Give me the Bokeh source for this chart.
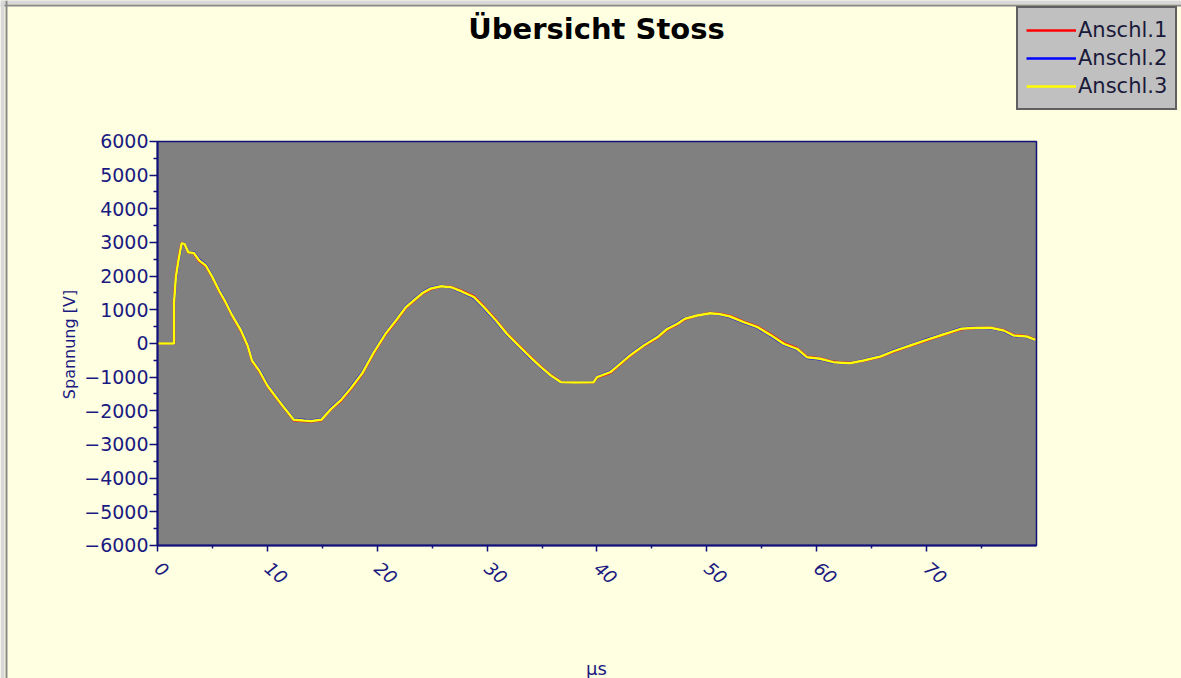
import math
from bokeh.plotting import figure
from bokeh.models import Range1d, FixedTicker, Label, Legend, LegendItem, Span
from bokeh.embed import file_html
from bokeh.resources import INLINE

# ---- data ----
title_text = "Übersicht Stoss"
x_label = "µs"
y_label = "Spannung [V]"
series_names = ["Anschl.1", "Anschl.2", "Anschl.3"]
series_colors = ["#FF0000", "#0000FF", "#FFFF00"]

t_us = [0, 1.5, 1.5, 1.67, 1.88, 2.06, 2.2, 2.45, 2.8, 3.3, 3.8, 4.4, 5.0, 5.6, 6.2,
        6.8, 7.6, 8.2, 8.6, 9.25, 10.0, 10.8, 11.5, 12.4, 13.3, 14.0, 14.9, 15.8, 16.7,
        17.6, 18.6, 19.7, 20.75, 21.7, 22.6, 23.5, 24.1, 24.8, 25.8, 26.7, 27.7, 28.8,
        29.7, 30.8, 31.8, 33.0, 34.0, 34.9, 35.8, 36.7, 38.0, 39.7, 40.0, 41.2, 42.1,
        43.0, 44.25, 45.5, 46.4, 47.3, 48.0, 49.1, 50.3, 51.2, 52.1, 53.35, 54.6, 55.8,
        57.0, 58.2, 59.1, 60.3, 61.5, 63.0, 64.25, 65.8, 67.0, 68.5, 70.0, 71.5, 73.1,
        74.5, 75.8, 77.0, 77.9, 79.1, 79.9]

anschl_3 = [0, 0, 1180, 1970, 2415, 2740, 2980, 2960, 2710, 2690, 2465, 2317, 1970, 1574,
            1227, 832, 386, -59, -505, -802, -1247, -1595, -1892, -2267, -2287, -2300,
            -2267, -1940, -1680, -1330, -900, -258, 287, 683, 1079, 1327, 1494, 1624,
            1703, 1673, 1544, 1376, 1079, 683, 287, -109, -430, -703, -950, -1148, -1160,
            -1148, -1000, -852, -604, -356, -59, 188, 436, 584, 733, 832, 900, 870, 802,
            634, 485, 250, -10, -158, -406, -455, -554, -584, -505, -386, -228, -59, 109,
            267, 436, 470, 465, 386, 238, 208, 109]

anschl_1 = [0, 0, 1230, 2010, 2450, 2780, 2990, 2950, 2700, 2680, 2440, 2300, 1960, 1560,
            1210, 820, 360, -70, -520, -820, -1260, -1610, -1900, -2280, -2300, -2310,
            -2280, -1950, -1700, -1350, -920, -280, 270, 660, 1060, 1310, 1480, 1610,
            1700, 1680, 1560, 1400, 1100, 700, 300, -90, -410, -690, -940, -1140, -1160,
            -1150, -1010, -870, -620, -370, -70, 170, 420, 570, 720, 830, 905, 880, 820,
            650, 500, 270, 10, -140, -390, -445, -545, -580, -510, -395, -240, -70, 95,
            255, 425, 468, 470, 395, 250, 215, 115]

anschl_2 = [0, 0, 1140, 1930, 2380, 2700, 2970, 2965, 2720, 2700, 2490, 2335, 1985, 1590,
            1245, 845, 405, -45, -490, -785, -1230, -1580, -1880, -2255, -2275, -2290,
            -2255, -1925, -1665, -1310, -880, -240, 305, 700, 1095, 1345, 1510, 1640,
            1706, 1665, 1530, 1355, 1060, 665, 270, -125, -450, -715, -960, -1155, -1160,
            -1145, -990, -835, -590, -340, -45, 205, 450, 598, 745, 835, 895, 862, 788,
            620, 470, 232, -28, -175, -420, -465, -562, -588, -498, -378, -215, -48, 122,
            280, 446, 472, 460, 378, 228, 200, 102]

y_ticks = [-6000, -5000, -4000, -3000, -2000, -1000, 0, 1000, 2000, 3000, 4000, 5000, 6000]
y_minor = [-5500, -4500, -3500, -2500, -1500, -500, 500, 1500, 2500, 3500, 4500, 5500]
x_ticks = [0, 10, 20, 30, 40, 50, 60, 70]
x_minor = [5, 15, 25, 35, 45, 55, 65, 75]
x_min, x_max = 0, 80
y_min, y_max = y_ticks[0], y_ticks[-1]

# ---- styling ----
W, H = 1181, 678
BG = "#FFFFE1"
NAVY = "#1A1A80"
AXIS = "#10107A"
FONT = "DejaVu Sans"

# view ranges chosen so that the plot area sits where the reference has it
X0, X1 = -14.289, 93.197
Y0, Y1 = -9950.5, 10188.1
p = figure(width=W, height=H, output_backend="svg", toolbar_location=None,
           x_range=Range1d(X0, X1), y_range=Range1d(Y0, Y1), min_border=0)
p.background_fill_color = BG
p.border_fill_color = BG
p.outline_line_color = None
p.xgrid.visible = False
p.ygrid.visible = False

px_x = W / (X1 - X0)
px_y = H / (Y1 - Y0)
# window frame (light outer band + darker inner line), top and left edges
p.add_layout(Span(location=Y1 - 1.5 / px_y, dimension="width", line_color="#D8D8D8", line_width=4))
p.add_layout(Span(location=Y1 - 5 / px_y, dimension="width", line_color="#8A8A8A", line_width=2))
p.add_layout(Span(location=X0 + 2 / px_x, dimension="height", line_color="#D8D8D8", line_width=4))
p.add_layout(Span(location=X0 + 6 / px_x, dimension="height", line_color="#8A8A8A", line_width=2))

# plot area
p.quad(left=[x_min], right=[x_max], bottom=[y_min], top=[y_max],
       fill_color="#808080", line_color=AXIS, line_width=1.5)

renderers = []
for vals, col in zip([anschl_1, anschl_2, anschl_3], series_colors):
    r = p.line(t_us, vals, line_color=col, line_width=2.5)
    renderers.append(r)

xa, ya = p.xaxis[0], p.yaxis[0]
xa.fixed_location = y_min
ya.fixed_location = x_min
xa.bounds = (x_min, x_max)
ya.bounds = (y_min, y_max)
for ax in (xa, ya):
    ax.axis_line_color = AXIS
    ax.axis_line_width = 2
    ax.major_tick_line_color = AXIS
    ax.minor_tick_line_color = AXIS
    ax.major_tick_line_width = 1.5
    ax.minor_tick_line_width = 1.5
    ax.major_tick_in = 0
    ax.minor_tick_in = 0
    ax.major_label_text_color = NAVY
    ax.major_label_text_font = FONT
    ax.major_label_text_font_size = "19px"

ya.ticker = FixedTicker(ticks=y_ticks, minor_ticks=y_minor)
xa.ticker = FixedTicker(ticks=x_ticks, minor_ticks=x_minor)
ya.major_tick_out = 8
ya.minor_tick_out = 4
ya.major_label_standoff = 1
xa.major_tick_out = 6
xa.minor_tick_out = 3
xa.major_label_orientation = -0.7
xa.major_label_text_font_style = "italic"
xa.major_label_text_font_size = "18px"
xa.major_label_standoff = 14

# title
p.add_layout(Label(x=596, y=H - 28, x_units="screen", y_units="screen", text=title_text,
                   text_font=FONT, text_font_size="29px", text_font_style="bold",
                   text_color="#000000", text_align="center", text_baseline="middle"))
# axis titles
p.add_layout(Label(x=596, y=H - 668, x_units="screen", y_units="screen", text=x_label,
                   text_font=FONT, text_font_size="18px", text_color=NAVY,
                   text_align="center", text_baseline="middle"))
p.add_layout(Label(x=69, y=H - 344, x_units="screen", y_units="screen", text=y_label,
                   text_font=FONT, text_font_size="16px", text_color=NAVY, angle=math.pi / 2,
                   text_align="center", text_baseline="middle"))

legend = Legend(items=[LegendItem(label=n, renderers=[r]) for n, r in zip(series_names, renderers)],
                location=(1016, H - 110), background_fill_color="#C0C0C0", background_fill_alpha=1.0,
                border_line_color="#000000", border_line_width=2,
                label_text_font=FONT, label_text_font_size="21px", label_text_color="#1A1A3A",
                glyph_width=50, glyph_height=28, label_height=28, label_standoff=2,
                spacing=0, padding=8, margin=0)
p.add_layout(legend, "center")

open("out.html", "w").write(file_html(p, INLINE))
